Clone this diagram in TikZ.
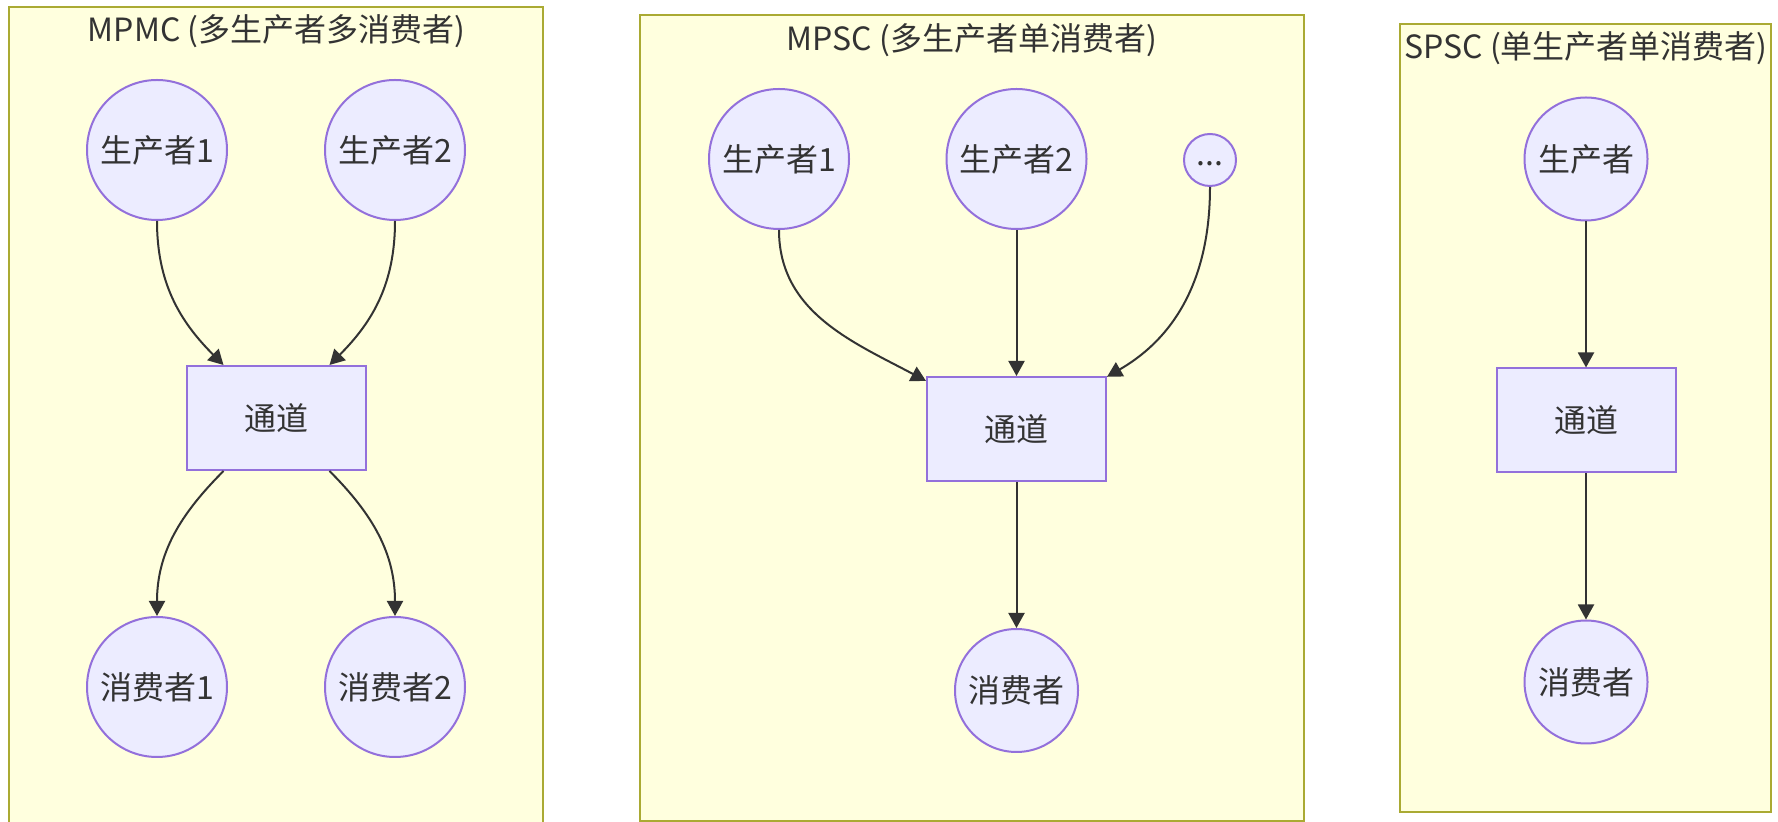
\documentclass[tikz,border=0pt]{standalone}
\usepackage{fontspec}
\setmainfont{Noto Sans CJK SC}
\usepackage{tikz}
\usetikzlibrary{arrows.meta}
\usetikzlibrary{positioning}
\definecolor{grpfill}{HTML}{FFFFDE}
\definecolor{grpline}{HTML}{AAAA33}
\definecolor{nodefill}{HTML}{ECECFF}
\definecolor{nodeline}{HTML}{9370DB}
\definecolor{inkcol}{HTML}{333333}
\tikzstyle{circnode} = [draw=nodeline, fill=nodefill, circle, line width=1pt, inner sep=0pt, text=inkcol, font=\fontsize{16}{19}\selectfont]
\tikzstyle{chnode} = [draw=nodeline, fill=nodefill, rectangle, line width=1pt, minimum width=89.5pt, minimum height=52pt, text=inkcol, font=\fontsize{16}{19}\selectfont]
\tikzstyle{grpbox} = [draw=grpline, fill=grpfill, line width=1pt]
\tikzstyle{grptitle} = [text=inkcol, inner sep=0pt, font=\fontsize{16}{19}\selectfont]
\tikzstyle{flow} = [draw=inkcol, line width=1pt, ->]

\begin{document}
\begin{tikzpicture}[x=0.5pt, y=-0.5pt, >={Triangle[length=7.5pt, width=8pt]}]
  \useasboundingbox (0,0) rectangle (1778,822);
  \fill[white] (0,0) rectangle (1778,822);

  \fill[grpfill] (9,7) rectangle (543,822);
  \draw[grpline, line width=1pt] (9,822) -- (9,7) -- (543,7) -- (543,822);
  \draw[grpbox] (640,15) rectangle (1304,821);
  \draw[grpbox] (1400,24) rectangle (1771,812);

  \node[grptitle] (t_mpmc) at (276.5,31) {MPMC (多生产者多消费者)};
  \node[grptitle] (t_mpsc) at (972,40) {MPSC (多生产者单消费者)};
  \node[grptitle] (t_spsc) at (1586,48) {SPSC (单生产者单消费者)};

  \node[circnode, minimum size=70pt] (mm_p1) at (157,150) {生产者1};
  \node[circnode, minimum size=70pt] (mm_p2) at (395,150) {生产者2};
  \node[chnode] (mm_ch) at (276.5,418) {通道};
  \node[circnode, minimum size=70pt] (mm_c1) at (157,687) {消费者1};
  \node[circnode, minimum size=70pt] (mm_c2) at (395,687) {消费者2};

  \node[circnode, minimum size=70pt] (ms_p1) at (779,159) {生产者1};
  \node[circnode, minimum size=70pt] (ms_p2) at (1016.5,159) {生产者2};
  \node[circnode, minimum size=26pt, text height=1.2ex, text depth=.25ex] (ms_pn) at (1210,160) {...};
  \node[chnode, below=73pt of ms_p2] (ms_ch) {通道};
  \node[circnode, minimum size=61.5pt, below=73pt of ms_ch] (ms_c) {消费者};

  \node[circnode, minimum size=61.5pt] (ss_p) at (1586,159) {生产者};
  \node[chnode, below=73pt of ss_p] (ss_ch) {通道};
  \node[circnode, minimum size=61.5pt, below=73pt of ss_ch] (ss_c) {消费者};

  \draw[flow] (mm_p1) to[out=-90, in=135] (mm_ch);
  \draw[flow] (mm_p2) to[out=-90, in=45] (mm_ch);
  \draw[flow] (mm_ch) to[out=-135, in=90] (mm_c1);
  \draw[flow] (mm_ch) to[out=-45, in=90] (mm_c2);

  \draw[flow] (ms_p1) to[out=-90, in=152] (ms_ch);
  \draw[flow] (ms_p2) -- (ms_ch);
  \draw[flow] (ms_pn) to[out=-90, in=30] (ms_ch);
  \draw[flow] (ms_ch) -- (ms_c);

  \draw[flow] (ss_p) -- (ss_ch);
  \draw[flow] (ss_ch) -- (ss_c);
\end{tikzpicture}
\end{document}
